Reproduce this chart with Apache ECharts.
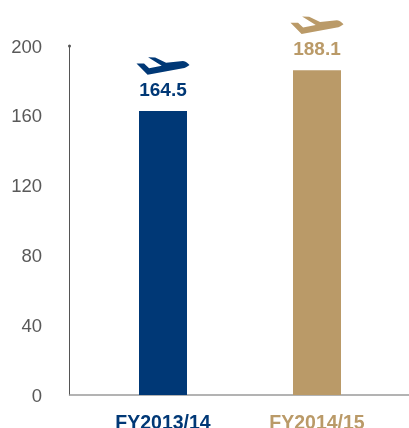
<!DOCTYPE html>
<html><head><meta charset="utf-8">
<style>html,body{margin:0;padding:0;background:#fff}#c{width:409px;height:428px}</style>
<script src="https://cdn.jsdelivr.net/npm/echarts@6/dist/echarts.min.js"></script>
</head><body><div id="c"></div>
<script>
const categories = ['FY2013/14', 'FY2014/15'];
const values = [164.5, 188.1];
const colors = ['#003876', '#BA9A68'];
const yTicks = [0, 40, 80, 120, 160, 200];
const plane = 'path://M0,6.7 L7.5,6.7 L12.5,11 L25,8.7 L11.5,0.7 L18.5,1 L29.3,6 L46,4.3 C49,4.6 51,6.5 52.5,8 C50,10 48,10.7 46,11 L11,17 Z';
const chart = echarts.init(document.getElementById('c'), null, {renderer: 'canvas'});
chart.setOption({
  animation: false,
  grid: [
    {left: 86, width: 308, top: 49.6, height: 345.4, outerBoundsMode: 'none'},
    {left: 69.5, right: 0, top: 46, height: 349, outerBoundsMode: 'none'}
  ],
  xAxis: [
    {type: 'category', gridIndex: 0, data: categories,
     axisLine: {show: false}, axisTick: {show: false},
     axisLabel: {margin: 19, fontFamily: 'Liberation Sans', fontSize: 19.5, fontWeight: 'bold',
       color: p => colors[categories.indexOf(p)]}},
    {type: 'value', gridIndex: 1, min: 0, max: 1, splitLine: {show: false},
     axisLabel: {show: false}, axisTick: {show: false},
     axisLine: {show: true, lineStyle: {color: '#9a9a9a', width: 1.5}}}
  ],
  yAxis: [
    {type: 'value', gridIndex: 0, min: 0, max: 200, show: false},
    {type: 'value', gridIndex: 1, min: 0, max: 200, interval: 40,
     splitLine: {show: false},
     axisLine: {show: true, symbol: ['none', 'circle'], symbolSize: [3, 3], lineStyle: {color: '#555', width: 1}},
     axisTick: {show: false},
     axisLabel: {margin: 27.5,
       formatter: v => yTicks.includes(v) ? '{t|' + v + '}' : '',
       rich: {t: {padding: [3, 0, 0, 0], fontFamily: 'Liberation Sans', fontSize: 18.5, color: '#595959'}}}}
  ],
  series: [
    {type: 'bar', xAxisIndex: 0, yAxisIndex: 0, barWidth: 48,
     data: values.map((v, i) => ({value: v, itemStyle: {color: colors[i]}, label: {color: colors[i]}})),
     label: {show: true, position: 'top', distance: 11, fontFamily: 'Liberation Sans', fontSize: 19, fontWeight: 'bold'}},
    {type: 'scatter', xAxisIndex: 0, yAxisIndex: 0, silent: true,
     symbol: plane, symbolSize: [53, 17.5], symbolOffset: [0, -45], symbolKeepAspect: false,
     data: values.map((v, i) => ({value: v, itemStyle: {color: colors[i], opacity: 1}}))}
  ]
});
</script></body></html>
